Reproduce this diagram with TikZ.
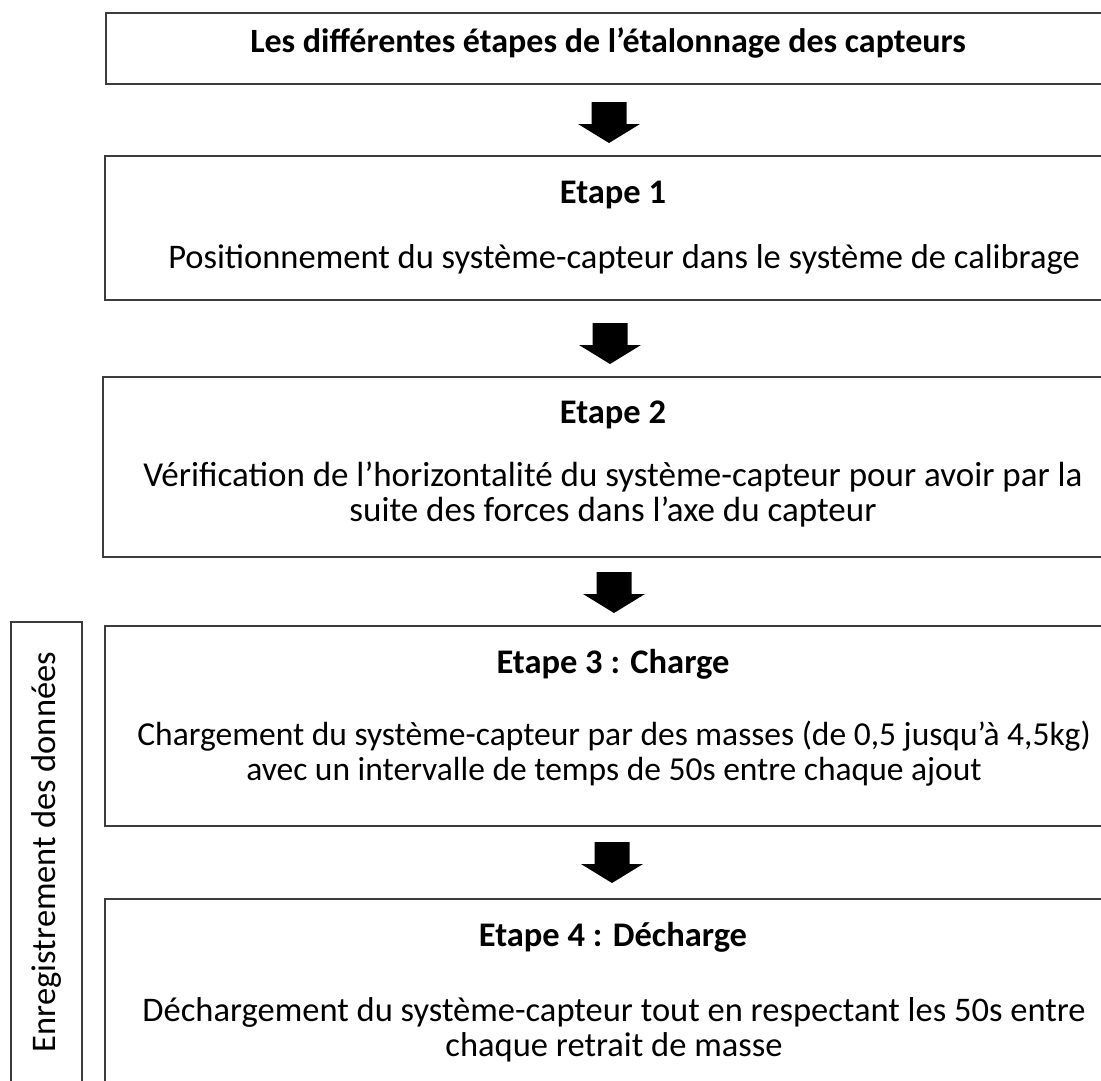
\documentclass[tikz,border=0pt]{standalone}
\usepackage{fontspec}
\setmainfont{Carlito}
\usetikzlibrary{calc}
\definecolor{boxgray}{HTML}{3C3C3C}
\begin{document}
\begin{tikzpicture}[x=1pt,y=1pt,
  box/.style={draw=boxgray, line width=2pt, anchor=north west, inner sep=0pt},
  headtxt/.style={font=\fontsize{34.5}{40}\selectfont\bfseries, anchor=center, inner sep=0pt},
  bodytxt/.style={font=\fontsize{34.5}{35}\selectfont, align=center, anchor=center, inner sep=0pt},
  blockarrow/.style={fill=black, draw=none}
]
\useasboundingbox (0,0) rectangle (1101,-1080);
\clip (0,0) rectangle (1101,-1080);
% boxes
\node[box, minimum width=1020, minimum height=71] (title) at (105,-12) {};
\node[box, minimum width=1020, minimum height=144] (e1) at (104,-155) {};
\node[box, minimum width=1020, minimum height=180] (e2) at (102,-376) {};
\node[box, minimum width=1020, minimum height=200] (e3) at (104,-625) {};
\node[box, minimum width=1020, minimum height=220] (e4) at (104,-898) {};
\node[box, minimum width=71, minimum height=500] (rec) at (10,-621) {};
% texts
\node[headtxt, font=\fontsize{34}{40}\selectfont\bfseries] (ttitle) at (608,-43) {Les différentes étapes de l’étalonnage des capteurs};
\node[headtxt] (h1) at (613,-195) {Etape 1};
\node[bodytxt] (b1) at (624,-259) {Positionnement du système-capteur dans le système de calibrage};
\node[headtxt] (h2) at (613,-415) {Etape 2};
\node[bodytxt, font=\fontsize{35}{35}\selectfont] (b2) at (613,-494) {Vérification de l’horizontalité du système-capteur pour avoir par la\\suite des forces dans l’axe du capteur};
\node[headtxt] (h3) at (613,-664) {Etape 3 : Charge};
\node[bodytxt, font=\fontsize{33.5}{35}\selectfont] (b3) at (614,-754) {Chargement du système-capteur par des masses (de 0,5 jusqu’à 4,5kg)\\avec un intervalle de temps de 50s entre chaque ajout};
\node[headtxt] (h4) at (613,-937) {Etape 4 : Décharge};
\node[bodytxt] (b4) at (614,-1030) {Déchargement du système-capteur tout en respectant les 50s entre\\chaque retrait de masse};
\node[bodytxt, rotate=90] (trec) at (46,-852) {Enregistrement des données};
% block arrows
\foreach \cx/\ty in {609/-102, 610/-323, 614/-572, 612/-842}{
  \fill[blockarrow] (\cx-17.5,\ty) -- (\cx+17.5,\ty) -- (\cx+17.5,\ty-22) -- (\cx+31,\ty-22)
    -- (\cx,\ty-41) -- (\cx-31,\ty-22) -- (\cx-17.5,\ty-22) -- cycle;
}
\end{tikzpicture}
\end{document}
